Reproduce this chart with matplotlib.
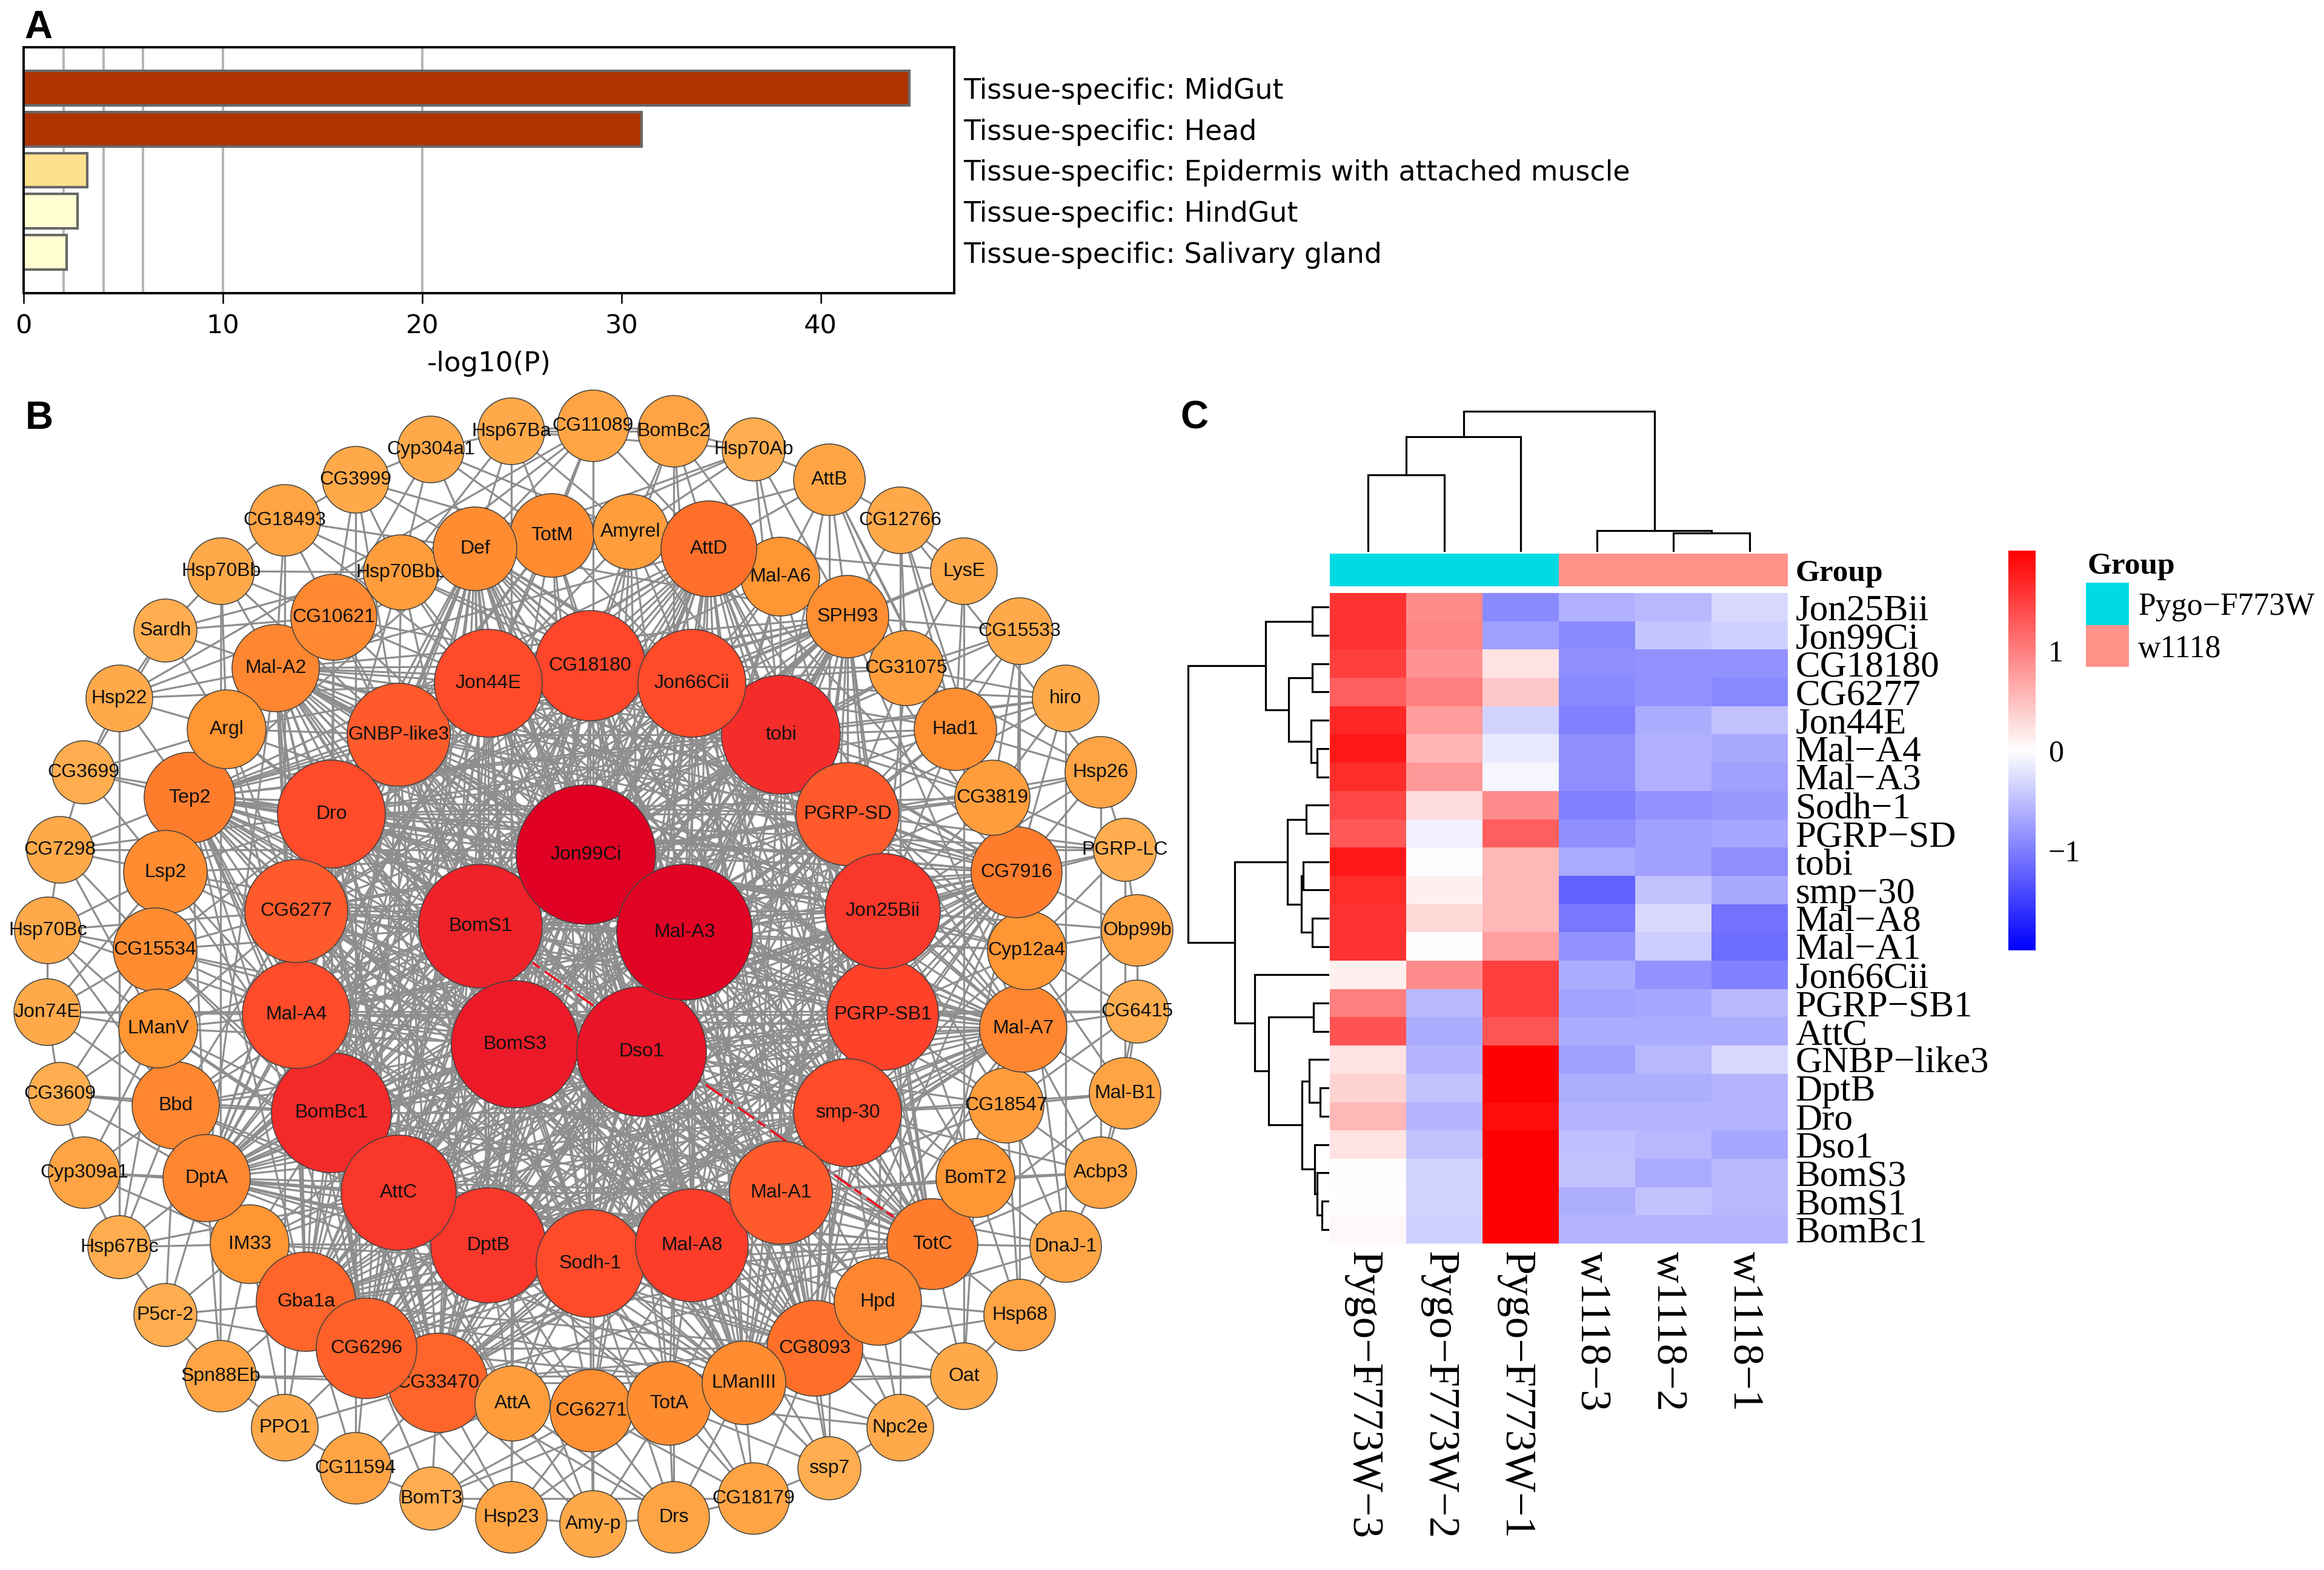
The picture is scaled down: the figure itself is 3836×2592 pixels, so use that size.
import numpy as np
import matplotlib
matplotlib.use("Agg")
import matplotlib.pyplot as plt
from matplotlib.collections import LineCollection
from matplotlib.colors import LinearSegmentedColormap, Normalize
from matplotlib.patches import Circle
from matplotlib.transforms import ScaledTranslation

W, H = 3836, 2592

# ====== PANEL A ======
terms = ["Tissue-specific: MidGut", "Tissue-specific: Head",
         "Tissue-specific: Epidermis with attached muscle",
         "Tissue-specific: HindGut", "Tissue-specific: Salivary gland"]
log_p = [44.45, 31.0, 3.2, 2.72, 2.17]
bar_colors = ["#AF3300", "#AF3300", "#FFE08C", "#FFFFD2", "#FFFFD2"]
grid_lines = [2, 4, 6, 10, 20]

# ====== PANEL B: nodes in draw order ======
node_table = [
    ("CG11089", 979, 703, 59), ("Hsp67Ba", 844, 712, 55), ("Cyp304a1", 711, 742, 55),
    ("CG3999", 587, 792, 55), ("CG18493", 470, 859, 59), ("Hsp70Bb", 365, 943, 55),
    ("Sardh", 273, 1041, 52), ("Hsp22", 197, 1153, 55), ("CG3699", 138, 1275, 52),
    ("CG7298", 99, 1403, 55), ("Hsp70Bc", 79, 1536, 55), ("Jon74E", 78, 1671, 55),
    ("CG3609", 99, 1806, 52), ("Cyp309a1", 139, 1936, 59), ("Hsp67Bc", 197, 2059, 52),
    ("P5cr-2", 273, 2171, 52), ("Spn88Eb", 364, 2272, 59), ("PPO1", 470, 2357, 55),
    ("CG11594", 587, 2424, 59), ("BomT3", 712, 2474, 52), ("Hsp23", 844, 2505, 59),
    ("Amy-p", 979, 2516, 55), ("Drs", 1112, 2505, 59), ("CG18179", 1244, 2474, 59),
    ("ssp7", 1369, 2424, 52), ("Npc2e", 1486, 2357, 55), ("Oat", 1591, 2272, 55),
    ("Hsp68", 1683, 2171, 59), ("DnaJ-1", 1759, 2058, 59), ("Acbp3", 1817, 1936, 59),
    ("Mal-B1", 1857, 1805, 59), ("CG6415", 1877, 1670, 52), ("Obp99b", 1877, 1536, 59),
    ("PGRP-LC", 1857, 1403, 52), ("Hsp26", 1817, 1275, 59), ("hiro", 1759, 1153, 55),
    ("CG15533", 1683, 1042, 55), ("LysE", 1591, 943, 55), ("CG12766", 1486, 859, 55),
    ("AttB", 1369, 792, 59), ("Hsp70Ab", 1244, 742, 52), ("BomBc2", 1112, 712, 59),
    ("Hsp70Bbb", 662, 945, 62), ("TotM", 911, 884, 69), ("Def", 784, 906, 69),
    ("Amyrel", 1041, 878, 62), ("Mal-A6", 1288, 952, 65), ("AttD", 1170, 906, 79),
    ("Mal-A2", 455, 1103, 72), ("CG10621", 551, 1019, 71), ("Tep2", 313, 1317, 75),
    ("Argl", 374, 1204, 65), ("Lsp2", 273, 1440, 69), ("CG15534", 256, 1568, 69),
    ("Bbd", 290, 1825, 72), ("LManV", 261, 1698, 65), ("IM33", 412, 2054, 65),
    ("DptA", 341, 1945, 72), ("Gba1a", 505, 2149, 82), ("CG33470", 723, 2283, 82),
    ("CG6296", 605, 2226, 83), ("AttA", 846, 2317, 62), ("CG6271", 976, 2329, 68),
    ("TotA", 1104, 2317, 69), ("CG8093", 1345, 2226, 79), ("LManIII", 1228, 2283, 69),
    ("TotC", 1539, 2054, 75), ("Hpd", 1449, 2149, 72), ("BomT2", 1610, 1945, 65),
    ("CG18547", 1661, 1825, 62), ("Mal-A7", 1689, 1698, 72), ("Cyp12a4", 1695, 1569, 65),
    ("CG7916", 1678, 1440, 75), ("CG3819", 1638, 1317, 62), ("CG31075", 1496, 1103, 62),
    ("Had1", 1577, 1204, 68), ("SPH93", 1399, 1018, 68),
    ("GNBP-like3", 658, 1213, 85), ("CG18180", 974, 1099, 91), ("Jon44E", 806, 1128, 89),
    ("tobi", 1289, 1213, 98), ("Jon66Cii", 1142, 1128, 89), ("PGRP-SD", 1399, 1344, 85),
    ("PGRP-SB1", 1457, 1675, 92), ("Jon25Bii", 1457, 1504, 95), ("smp-30", 1399, 1837, 89),
    ("DptB", 806, 2056, 95), ("Sodh-1", 974, 2086, 89), ("Mal-A8", 1142, 2056, 93),
    ("Mal-A1", 1289, 1969, 85), ("BomBc1", 547, 1837, 99), ("AttC", 658, 1969, 95),
    ("Mal-A4", 489, 1675, 89), ("Dro", 547, 1344, 89), ("CG6277", 489, 1504, 85),
    ("BomS1", 793, 1529, 102), ("Jon99Ci", 967, 1411, 115), ("BomS3", 850, 1724, 105),
    ("Dso1", 1059, 1736, 107), ("Mal-A3", 1130, 1539, 112),
]
node_names = [n[0] for n in node_table]
node_x = [n[1] for n in node_table]
node_y = [n[2] for n in node_table]
node_size = [n[3] for n in node_table]

# these genes are all linked to each other, that is the dense middle of the network
core_nodes = ("GNBP-like3 CG18180 Jon44E tobi Jon66Cii PGRP-SD PGRP-SB1 Jon25Bii smp-30 DptB Sodh-1 "
              "Mal-A8 Mal-A1 BomBc1 AttC Mal-A4 Dro CG6277 BomS1 Jon99Ci BomS3 Dso1 Mal-A3 "
              "AttD CG8093 CG33470 CG6296 Gba1a "
              "Tep2 CG7916 TotC Mal-A2 Mal-A7 DptA Def SPH93 LManIII").split()

# edges estimated by eye, the picture is too dense to read every one
edge_targets = {
    "CG11089": "Hsp67Ba BomBc2 AttD Def TotM Jon44E Amy-p Hsp22 Hsp70Bbb",
    "BomBc2": "Hsp70Ab AttD Mal-A6 CG18180 Jon66Cii Drs Amyrel Hsp67Ba",
    "Hsp70Ab": "Hsp67Ba AttB Mal-A6 SPH93 tobi Amyrel Def TotM",
    "AttB": "Mal-A6 SPH93 CG31075 tobi CG12766 Had1 CG3819 AttD Amyrel ssp7",
    "CG12766": "SPH93 CG31075 LysE Had1 CG7916 Hsp26 Npc2e",
    "LysE": "SPH93 AttD Had1 CG31075 Jon66Cii Oat",
    "CG15533": "CG31075 Had1 SPH93 tobi CG3819 PGRP-SD CG7916 Hsp68",
    "hiro": "Had1 CG31075 Jon66Cii CG3819 PGRP-SD CG7916 tobi DnaJ-1 Tep2",
    "Hsp26": "CG3819 CG7916 Had1 PGRP-SD Jon25Bii PGRP-LC Acbp3 CG31075",
    "PGRP-LC": "CG3819 CG7916 Cyp12a4 PGRP-SD Jon25Bii Obp99b Mal-B1 Dro CG7298",
    "Obp99b": "Cyp12a4 CG7916 Jon25Bii Mal-A7 CG6415",
    "CG6415": "Cyp12a4 Mal-A7 PGRP-SB1 CG18547 Acbp3 Mal-B1 Jon74E",
    "Mal-B1": "Mal-A7 CG18547 Cyp12a4 smp-30 Acbp3 TotC",
    "Acbp3": "CG18547 BomT2 Mal-A7 TotC smp-30 DnaJ-1 Mal-A1",
    "DnaJ-1": "BomT2 TotC CG18547 Hpd Mal-A1 Hsp68 Cyp12a4",
    "Hsp68": "TotC Hpd BomT2 CG8093 Oat CG18547",
    "Oat": "Hpd CG8093 TotC LManIII Npc2e BomT2 Spn88Eb",
    "Npc2e": "CG8093 LManIII Hpd TotA ssp7 Mal-A1",
    "ssp7": "CG8093 LManIII TotA Mal-A8 CG18179 Mal-A1",
    "CG18179": "LManIII TotA CG6271 CG8093 Drs Sodh-1 Mal-A8 BomT3",
    "Drs": "TotA CG6271 LManIII AttA Amy-p Sodh-1 CG33470",
    "Amy-p": "CG6271 TotA AttA CG33470 Hsp23 DptB",
    "Hsp23": "AttA CG6271 CG33470 CG6296 TotA BomT3 Hsp67Ba",
    "BomT3": "CG33470 AttA CG6296 CG11594 CG6271 TotA",
    "CG11594": "CG33470 CG6296 Gba1a PPO1 AttA CG3999",
    "PPO1": "CG6296 Gba1a IM33 Spn88Eb CG33470 CG18493",
    "Spn88Eb": "Gba1a IM33 DptA CG33470 P5cr-2 Hsp70Bb",
    "P5cr-2": "IM33 Gba1a DptA CG6296 Hsp67Bc Bbd",
    "Hsp67Bc": "IM33 DptA Bbd Hsp22 LManV Cyp309a1 AttC",
    "Cyp309a1": "DptA Bbd LManV IM33 CG3609 AttC",
    "CG3609": "Bbd LManV CG15534 DptA BomBc1 Jon74E",
    "Jon74E": "CG15534 LManV Bbd Mal-A4 Hsp70Bc Lsp2",
    "Hsp70Bc": "CG15534 Lsp2 LManV Mal-A4 CG6277 CG7298 Bbd",
    "CG7298": "Lsp2 Tep2 CG15534 CG3699 Dro LManV",
    "CG3699": "Tep2 Argl Lsp2 Sardh Dro Hsp22",
    "Hsp22": "Argl Tep2 Mal-A2 CG10621 Sardh Hsp67Bc Jon44E",
    "Sardh": "Mal-A2 Argl CG10621 Hsp70Bb Def",
    "Hsp70Bb": "Mal-A2 CG10621 Hsp70Bbb CG18493 Argl GNBP-like3",
    "CG18493": "CG10621 Mal-A2 Hsp70Bbb Def CG3999 Jon44E",
    "CG3999": "Hsp70Bbb CG10621 Def Cyp304a1 TotM GNBP-like3",
    "Cyp304a1": "Def Hsp70Bbb TotM Hsp67Ba Amyrel CG10621",
    "Hsp67Ba": "TotM Def Amyrel Hsp70Bbb",
    "Hsp70Bbb": "Def Jon44E GNBP-like3 CG18180 Dro Jon99Ci BomS1 tobi",
    "TotM": "CG18180 Jon44E Jon99Ci Jon66Cii GNBP-like3 Dro BomS1 Mal-A3 Sodh-1 AttD",
    "Amyrel": "CG18180 Jon66Cii Jon44E tobi Jon99Ci Mal-A3 Dso1 Sodh-1",
    "Mal-A6": "Jon66Cii tobi CG18180 PGRP-SD Jon99Ci Mal-A3 Dso1",
    "CG10621": "GNBP-like3 Jon44E Dro CG18180 BomS1 Jon99Ci BomBc1 Tep2",
    "Argl": "Dro GNBP-like3 CG6277 BomS1 Jon44E Mal-A4 Jon99Ci",
    "Lsp2": "CG6277 Dro Mal-A4 BomS1 BomS3 BomBc1 Jon99Ci Tep2",
    "CG15534": "CG6277 Mal-A4 BomS1 BomS3 BomBc1 Dro AttC Dso1 Tep2",
    "LManV": "Mal-A4 CG6277 BomBc1 BomS1 BomS3 AttC DptB",
    "Bbd": "BomBc1 Mal-A4 AttC BomS3 BomS1 DptB Dso1 CG6277",
    "IM33": "AttC BomBc1 DptB BomS3 Sodh-1 Dso1",
    "AttA": "DptB Sodh-1 AttC BomS3 Dso1 Mal-A8 Mal-A3 BomBc1",
    "CG6271": "Sodh-1 DptB Mal-A8 Dso1 BomS3 Mal-A3 Jon99Ci AttC",
    "TotA": "Sodh-1 Mal-A8 Mal-A1 Dso1 Mal-A3 DptB Jon99Ci AttC",
    "Hpd": "Mal-A1 Mal-A8 smp-30 PGRP-SB1 Mal-A3 Dso1 BomS3",
    "BomT2": "smp-30 Mal-A1 PGRP-SB1 Jon25Bii Mal-A3",
    "CG18547": "smp-30 PGRP-SB1 Jon25Bii Mal-A1 Mal-A3 Dso1",
    "Cyp12a4": "Jon25Bii PGRP-SB1 PGRP-SD smp-30 Mal-A3 tobi Jon99Ci BomS1",
    "CG3819": "PGRP-SD Jon25Bii tobi Jon66Cii Mal-A3 Jon99Ci Dro",
    "Had1": "PGRP-SD tobi Jon25Bii Jon66Cii Jon99Ci Mal-A3 Dro",
    "CG31075": "tobi PGRP-SD Jon66Cii CG18180 Jon99Ci Jon25Bii",
}
red_edges = [("BomS1", "TotC")]

# ====== PANEL C ======
genes = ["Jon25Bii", "Jon99Ci", "CG18180", "CG6277", "Jon44E", "Mal\u2212A4", "Mal\u2212A3",
         "Sodh\u22121", "PGRP\u2212SD", "tobi", "smp\u221230", "Mal\u2212A8", "Mal\u2212A1",
         "Jon66Cii", "PGRP\u2212SB1", "AttC", "GNBP\u2212like3", "DptB", "Dro", "Dso1",
         "BomS3", "BomS1", "BomBc1"]
samples = ["Pygo\u2212F773W\u22123", "Pygo\u2212F773W\u22122", "Pygo\u2212F773W\u22121",
           "w1118\u22123", "w1118\u22122", "w1118\u22121"]
expr = np.array([
    [1.60, 0.92, -0.92, -0.62, -0.56, -0.30],
    [1.60, 0.95, -0.75, -0.92, -0.45, -0.37],
    [1.50, 0.85, 0.22, -0.88, -0.85, -0.85],
    [1.25, 1.00, 0.43, -0.93, -0.85, -0.93],
    [1.70, 0.78, -0.35, -1.00, -0.65, -0.48],
    [1.80, 0.58, -0.16, -0.88, -0.62, -0.68],
    [1.65, 0.80, -0.07, -0.88, -0.62, -0.75],
    [1.45, 0.28, 0.90, -1.00, -0.85, -0.80],
    [1.30, -0.12, 1.25, -0.88, -0.75, -0.70],
    [1.80, -0.02, 0.55, -0.67, -0.75, -0.88],
    [1.65, 0.12, 0.55, -1.22, -0.47, -0.68],
    [1.60, 0.30, 0.55, -1.05, -0.30, -1.10],
    [1.60, 0.01, 0.75, -0.85, -0.40, -1.15],
    [0.12, 0.90, 1.50, -0.65, -0.85, -0.98],
    [1.00, -0.55, 1.50, -0.72, -0.70, -0.55],
    [1.35, -0.65, 1.33, -0.65, -0.65, -0.65],
    [0.23, -0.58, 2.00, -0.75, -0.55, -0.30],
    [0.35, -0.48, 2.00, -0.63, -0.63, -0.58],
    [0.55, -0.58, 1.90, -0.58, -0.58, -0.58],
    [0.22, -0.48, 2.00, -0.50, -0.55, -0.70],
    [0.02, -0.35, 2.00, -0.47, -0.66, -0.55],
    [0.01, -0.35, 2.00, -0.63, -0.47, -0.55],
    [0.05, -0.37, 2.00, -0.58, -0.58, -0.60],
])
groups = ["Pygo\u2212F773W", "w1118"]
group_colors = ["#00DAE3", "#FF9289"]
sample_group = [0, 0, 0, 1, 1, 1]

# dendrograms as (height, left, right), leaves are row or column numbers
col_tree = (230, (188, (125, 0, 1), 2), (33, 3, (29, 4, 5)))
row_tree = (231,
            (103, (26, 0, 1), (65, (26, 2, 3), (28, 4, (18, 5, 6)))),
            (154,
             (67, (36, 7, 8), (44, (41, 9, 10), (26, 11, 12))),
             (121, 13,
              (98, (24, 14, 15),
               (43, (31, 16, (13, 17, 18)), (22, 19, (18, 20, (10, 21, 22))))))))


def px_axes(fig, left, top, right, bottom):
    return fig.add_axes([left / W, 1 - bottom / H, (right - left) / W, (bottom - top) / H])


def draw_tree(ax, node, to_line):
    # returns the position of the node along the leaves and its height
    if not isinstance(node, tuple):
        return node + 0.5, 0
    h, a, b = node
    pa, ha = draw_tree(ax, a, to_line)
    pb, hb = draw_tree(ax, b, to_line)
    xs, ys = to_line([pa, pa, pb, pb], [ha, h, h, hb])
    ax.plot(xs, ys, color="black", lw=2.3, solid_joinstyle="miter", zorder=2)
    return (pa + pb) / 2, h


fig = plt.figure(figsize=(W / 100, H / 100), dpi=100, facecolor="white")

# ====== overlay in picture pixels: network, dendrograms ======
net = fig.add_axes([0, 0, 1, 1])
net.set_xlim(0, W)
net.set_ylim(H, 0)
net.axis("off")

pos = {n: (x, y) for n, x, y in zip(node_names, node_x, node_y)}
pairs = []
for i, a in enumerate(core_nodes):
    for b in core_nodes[i + 1:]:
        pairs.append((a, b))
for a, targets in edge_targets.items():
    for b in targets.split():
        pairs.append((a, b))
net.add_collection(LineCollection([[pos[a], pos[b]] for a, b in pairs], colors="#8E8E8E", linewidths=2.3, zorder=1))
# the red edge looks broken up in the reference, grey lines run over it there
for a, b in red_edges:
    net.plot([pos[a][0], pos[b][0]], [pos[a][1], pos[b][1]], color="#F01020", lw=2.6,
             linestyle=(0, (9, 2, 4, 3)), zorder=1.5)

node_cmap = LinearSegmentedColormap.from_list("nodes", [
    (0.0, "#FFAD4F"), (0.115, "#FFA444"), (0.21, "#FF9533"), (0.33, "#FF8530"), (0.44, "#FF7029"),
    (0.54, "#FF5A2B"), (0.66, "#FF402A"), (0.75, "#F52E2B"), (0.87, "#EC1A28"), (1.0, "#DF0024")])
node_norm = Normalize(52, 113)
for i, (name, x, y, s) in enumerate(zip(node_names, node_x, node_y, node_size)):
    net.add_patch(Circle((x, y), s, facecolor=node_cmap(node_norm(s)), edgecolor="#404040",
                         lw=1.1, zorder=2 + i * 0.01))
    net.text(x, y, name, ha="center", va="center", fontsize=23, family="Liberation Sans",
             color="#111111", zorder=2 + i * 0.01 + 0.005)

# ====== A ======
ax = px_axes(fig, 39, 78, 1575, 484)
ax.set_xlim(0, 46.7)
ax.set_ylim(5, -1)
for g in grid_lines:
    ax.axvline(g, color="#B4B4B4", lw=2.8, zorder=1)
ax.barh(range(len(terms)), log_p, height=0.84, color=bar_colors, edgecolor="#686868", lw=3, zorder=2)
ax.set_xticks([0, 10, 20, 30, 40])
ax.tick_params(axis="x", labelsize=31, length=12, width=1.8, pad=12)
ax.yaxis.tick_right()
ax.set_yticks(range(len(terms)), terms)
ax.tick_params(axis="y", labelsize=33, length=0, pad=11)
ax.set_xlabel("-log10(P)", fontsize=32.5, labelpad=14)
for s in ax.spines.values():
    s.set_linewidth(2.8)
ax.patch.set_alpha(0)

# ====== C heatmap ======
hm_left, hm_top, hm_right, hm_bottom = 2195, 979, 2951, 2053
heat_cmap = LinearSegmentedColormap.from_list("heat", ["#0000FF", "#FFFFFF", "#FF0000"])
hm = px_axes(fig, hm_left, hm_top, hm_right, hm_bottom)
hm.pcolormesh(expr, cmap=heat_cmap, vmin=-2, vmax=2)
hm.set_ylim(len(genes), 0)
hm.yaxis.tick_right()
hm.set_yticks(np.arange(len(genes)) + 0.5, genes, family="Liberation Serif", fontsize=44)
hm.set_xticks(np.arange(len(samples)) + 0.5, samples, family="Liberation Serif", fontsize=51.2, rotation=270)
hm.tick_params(length=0)
hm.tick_params(axis="y", pad=9)
hm.tick_params(axis="x", pad=9)
# rotated labels sit a little left of the column middle in the reference
shift = ScaledTranslation(-9 / 100, 0, fig.dpi_scale_trans)
for lab in hm.get_xticklabels():
    lab.set_transform(lab.get_transform() + shift)
for s in hm.spines.values():
    s.set_visible(False)

ann = px_axes(fig, hm_left, 914, hm_right, 968)
ann.pcolormesh([sample_group], cmap=LinearSegmentedColormap.from_list("grp", group_colors), vmin=0, vmax=1)
ann.set_xticks([])
ann.yaxis.tick_right()
ann.set_yticks([0.5], ["Group"], family="Liberation Serif", fontweight="bold", fontsize=37)
ann.tick_params(length=0, pad=9)
for s in ann.spines.values():
    s.set_visible(False)

col_w = (hm_right - hm_left) / len(samples)
row_h = (hm_bottom - hm_top) / len(genes)
draw_tree(net, col_tree, lambda p, h: ([hm_left + v * col_w for v in p], [909 - v for v in h]))
draw_tree(net, row_tree, lambda p, h: ([hm_left - 3 - v for v in h], [hm_top + v * row_h for v in p]))

# ====== colorbar ======
cb = px_axes(fig, 3315, 909, 3360, 1569)
cb.imshow(np.linspace(2, -2, 256).reshape(-1, 1), cmap=heat_cmap, vmin=-2, vmax=2, aspect="auto",
          extent=[0, 1, -2, 2])
cb.set_xticks([])
cb.yaxis.tick_right()
cb.set_yticks([-1, 0, 1], ["\u22121", "0", "1"], family="Liberation Serif", fontsize=36)
cb.tick_params(length=0, pad=15)
for s in cb.spines.values():
    s.set_visible(False)

# ====== group legend ======
leg = px_axes(fig, 3443, 962, 3514, 1101)
leg.pcolormesh([[0], [1]], cmap=LinearSegmentedColormap.from_list("grp", group_colors), vmin=0, vmax=1)
leg.set_ylim(2, 0)
leg.set_xticks([])
leg.yaxis.tick_right()
leg.set_yticks([0.5, 1.5], groups, family="Liberation Serif", fontsize=37.4)
leg.tick_params(length=0, pad=11)
for s in leg.spines.values():
    s.set_visible(False)
fig.text(3445 / W, 1 - 935 / H, "Group", family="Liberation Serif", fontweight="bold",
         fontsize=37, va="center")

# ====== panel letters ======
for letter, x, y in [("A", 40, 46), ("B", 42, 691), ("C", 1948, 691)]:
    fig.text(x / W, 1 - y / H, letter, family="Liberation Sans", fontweight="bold", fontsize=46, va="center")

fig.savefig("out.png", dpi=100)
